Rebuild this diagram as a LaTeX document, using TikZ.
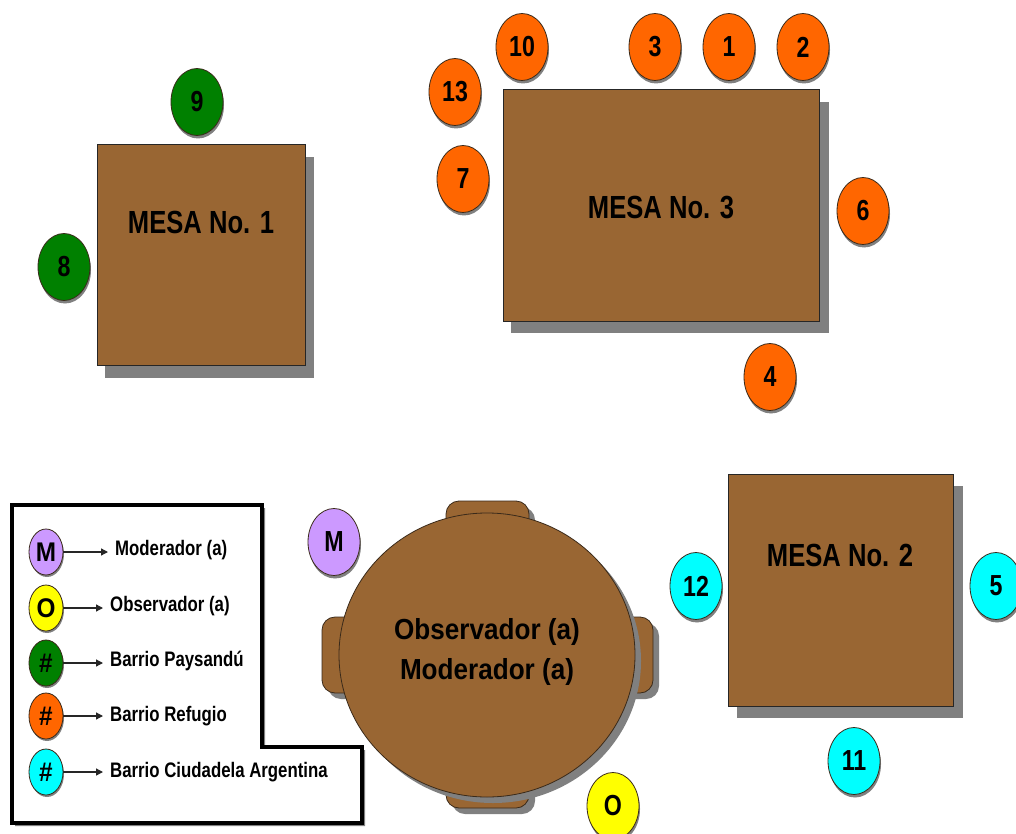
\documentclass[tikz,border=0pt]{standalone}
\usepackage{fontspec}
\setmainfont{Liberation Sans}
\usetikzlibrary{shapes.geometric,arrows.meta}
\definecolor{wood}{HTML}{996633}
\definecolor{shadowgray}{HTML}{808080}
\definecolor{cOrange}{HTML}{FF6600}
\definecolor{cGreen}{HTML}{008000}
\definecolor{cCyan}{HTML}{00FFFF}
\definecolor{cLilac}{HTML}{CC99FF}
\definecolor{cYellow}{HTML}{FFFF00}
\definecolor{edgecol}{HTML}{3A2A1A}
\newcommand{\narrowtxt}[1]{\scalebox{0.8}[1]{#1}}
\newcommand{\seatat}[5]{%
  \fill[shadowgray] (#2+1,#3+3) ellipse (26 and 33.5);
  \node[seat, fill=#4] (#1) at (#2,#3) {\narrowtxt{#5}};}
\newcommand{\legseat}[5]{%
  \fill[shadowgray] (#2+1,#3+2) ellipse (17 and 23);
  \node[legcirc, fill=#4] (#1) at (#2,#3) {\scalebox{0.9}[1]{#5}};}
\begin{document}
\begin{tikzpicture}[x=1pt,y=-1pt,
  seat/.style={ellipse, draw=edgecol, line width=0.8pt, minimum width=52pt,
    minimum height=67pt, inner sep=0pt,
    font=\fontsize{29}{31}\selectfont\bfseries},
  legcirc/.style={ellipse, draw=edgecol, line width=0.8pt, minimum width=34pt,
    minimum height=46pt, inner sep=0pt,
    font=\fontsize{27}{29}\selectfont\bfseries},
  tablebox/.style={rectangle, draw=black!85, line width=1pt, fill=wood, inner sep=0pt},
  mesatext/.style={font=\fontsize{32}{34}\selectfont\bfseries, inner sep=0pt},
  legtext/.style={font=\fontsize{21}{23}\selectfont\bfseries, anchor=west, inner sep=5pt},
  legarrow/.style={-{Triangle[length=7pt,width=7pt]}, line width=1.3pt, black!85, shorten >=2pt},
  chair/.style={draw=edgecol, line width=0.8pt, fill=wood, rounded corners=13pt}
]
\useasboundingbox (0,0) rectangle (1016,834);
\fill[white] (0,0) rectangle (1016,834);

% ---------- MESA No. 1 ----------
\fill[shadowgray] (105,157) rectangle (314,378);
\node[tablebox, minimum width=208pt, minimum height=220pt] (mesa1) at (201,255) {};
\node[mesatext] (mesa1lbl) at (201,222) {\narrowtxt{MESA No. 1}};
\seatat{s9}{197}{102}{cGreen}{9}
\seatat{s8}{64}{267}{cGreen}{8}

% ---------- MESA No. 3 ----------
\fill[shadowgray] (511,102) rectangle (829,333);
\node[tablebox, minimum width=316pt, minimum height=231pt] (mesa3) at (661,205.5) {};
\node[mesatext] (mesa3lbl) at (661,208) {\narrowtxt{MESA No. 3}};
\seatat{s10}{522}{47}{cOrange}{10}
\seatat{s3}{655}{47}{cOrange}{3}
\seatat{s1}{729}{47}{cOrange}{1}
\seatat{s2}{803}{47}{cOrange}{2}
\seatat{s13}{455}{92}{cOrange}{13}
\seatat{s7}{463}{179}{cOrange}{7}
\seatat{s6}{863}{211}{cOrange}{6}
\seatat{s4}{770}{377}{cOrange}{4}

% ---------- MESA No. 2 ----------
\fill[shadowgray] (737,486) rectangle (963,718);
\node[tablebox, minimum width=225pt, minimum height=232pt] (mesa2) at (840.5,590) {};
\node[mesatext] (mesa2lbl) at (840,555) {\narrowtxt{MESA No. 2}};
\seatat{s12}{696}{586}{cCyan}{12}
\seatat{s5}{996}{586}{cCyan}{5}
\seatat{s11}{854}{761}{cCyan}{11}

% ---------- Round table ----------
\fill[shadowgray, rounded corners=13pt] (452,507) rectangle (535,550);
\fill[shadowgray, rounded corners=13pt] (452,771) rectangle (535,814);
\fill[shadowgray, rounded corners=13pt] (611,623) rectangle (659,699);
\fill[shadowgray, rounded corners=13pt] (328,623) rectangle (376,699);
\draw[chair] (446,501) rectangle (529,545);
\draw[chair] (446,765) rectangle (529,808);
\draw[chair] (322,617) rectangle (370,693);
\draw[chair] (605,617) rectangle (653,693);
\fill[shadowgray] (493,661) ellipse (148 and 142);
\node[ellipse, draw=edgecol, line width=0.8pt, fill=wood, minimum width=296pt,
  minimum height=284pt, inner sep=0pt] (round) at (487,655) {};
\node[align=center, font=\fontsize{29}{40}\selectfont\bfseries, inner sep=0pt] (roundlbl)
  at (487,652) {\scalebox{0.9}[1]{Observador (a)}\\\scalebox{0.9}[1]{Moderador (a)}};
\seatat{sM}{334}{542}{cLilac}{M}
\seatat{sO}{613}{806}{cYellow}{O}

% ---------- Legend ----------
\fill[shadowgray] (15,508) -- (265,508) -- (265,750) -- (365,750) -- (365,826) -- (15,826) -- cycle;
\draw[line width=3.5pt, fill=white, line join=miter]
  (12,505) -- (262,505) -- (262,747) -- (362,747) -- (362,823) -- (12,823) -- cycle;
\legseat{lM}{46}{552}{cLilac}{M}
\legseat{lO}{46}{608}{cYellow}{O}
\legseat{lP}{46}{663}{cGreen}{\#}
\legseat{lR}{46}{716}{cOrange}{\#}
\legseat{lC}{46}{772}{cCyan}{\#}
\node[legtext] (tM) at (110,550) {\narrowtxt{Moderador (a)}};
\node[legtext] (tO) at (105,606) {\narrowtxt{Observador (a)}};
\node[legtext] (tP) at (105,661) {\narrowtxt{Barrio Paysandú}};
\node[legtext] (tR) at (105,716) {\narrowtxt{Barrio Refugio}};
\node[legtext] (tC) at (105,772) {\narrowtxt{Barrio Ciudadela Argentina}};
\draw[legarrow] (lM.east) -- (tM.west |- lM.east);
\draw[legarrow] (lO.east) -- (tO.west |- lO.east);
\draw[legarrow] (lP.east) -- (tP.west |- lP.east);
\draw[legarrow] (lR.east) -- (tR.west |- lR.east);
\draw[legarrow] (lC.east) -- (tC.west |- lC.east);
\end{tikzpicture}
\end{document}
